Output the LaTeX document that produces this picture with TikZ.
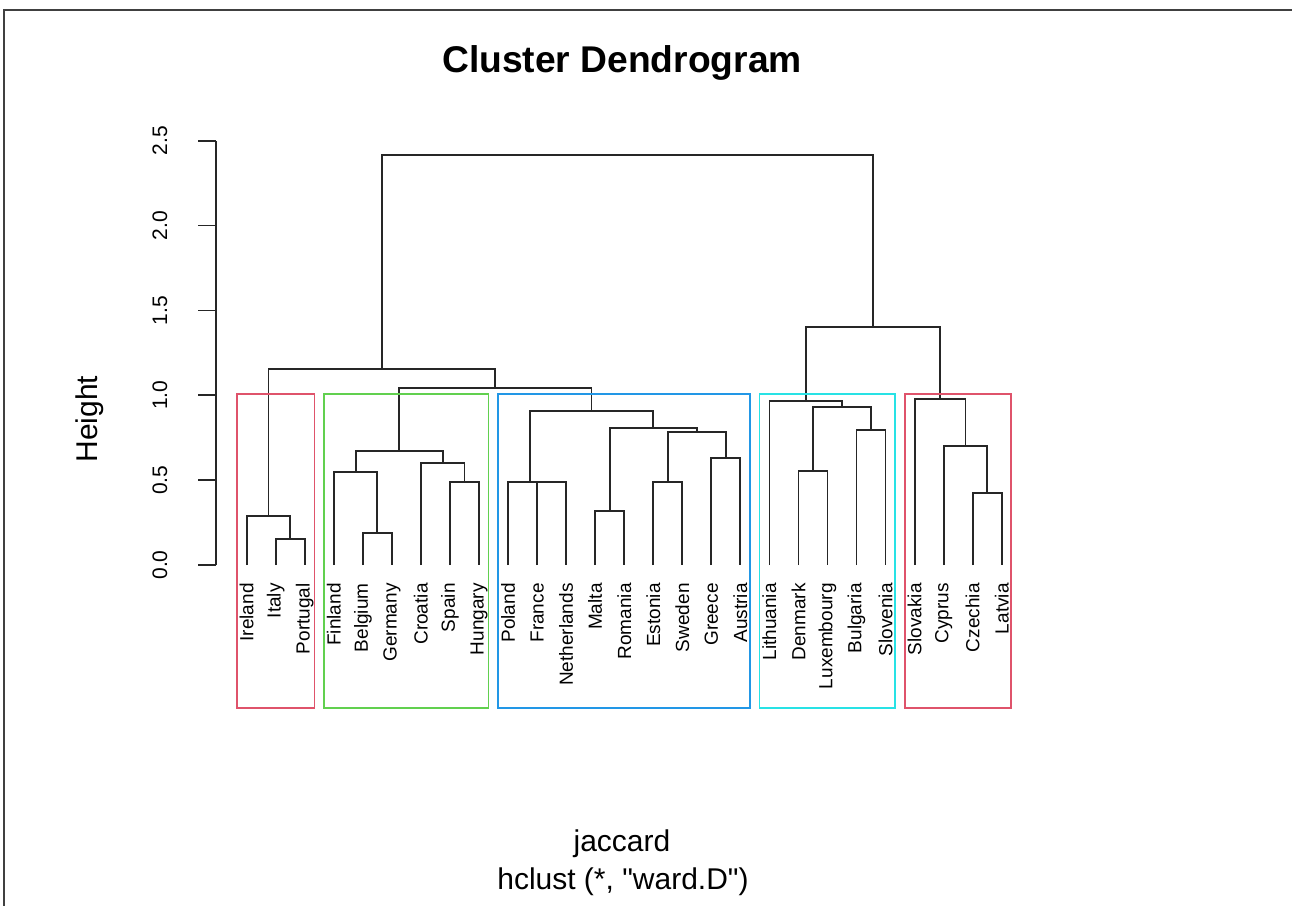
\documentclass[tikz,border=0pt]{standalone}
\usepackage{fontspec}
\setmainfont{Liberation Sans}
\newfontfamily\rawsans{Liberation Sans}
\usetikzlibrary{calc}
\tikzset{branch/.style = {line width = 0.9pt, black!85}}
\tikzset{box/.style = {line width = 0.85pt}}
\tikzset{leaf/.style = {rotate = 90, anchor = east, inner sep = 0, font = \fontsize{9.5}{11}\selectfont}}
\tikzset{ticklab/.style = {rotate = 90, inner sep = 0, font = \fontsize{10.5}{12}\selectfont}}
\definecolor{cred}{HTML}{DF536B}
\definecolor{cgreen}{HTML}{61D04F}
\definecolor{cblue}{HTML}{2297E6}
\definecolor{ccyan}{HTML}{28E2E5}

% #1 new merge point, #2 and #3 the two children, #4 height
\newcommand\joinpair[4]{%
  \path (#2) -- (#3) coordinate [pos = 0.5] (mid);
  \coordinate (#1) at (mid |- 0, #4);
  \draw [branch] (#2) |- (#1) -| (#3);
}

\begin{document}
\begin{tikzpicture}[x = 0.5pt, y = -0.5pt]
    \useasboundingbox (0, 0) rectangle (1292, 906);
    \draw [line width = 1pt, black!75] (4, 906) -- (4, 10) -- (1292, 10);

    \node [anchor = base, font = \bfseries\fontsize{18.6}{22}\selectfont] (title) at (622, 72) {Cluster Dendrogram};
    \node [anchor = base, font = \fontsize{15}{18}\selectfont] (xlab) at (622, 851.5) {jaccard};
    \node [anchor = base, font = \rawsans\fontsize{15}{18}\selectfont] (sub) at (623, 889) {hclust (*, "ward.D")};
    \node [rotate = 90, font = \fontsize{15}{18}\selectfont] (ylab) at (90, 419) {Height};

    \begin{scope}[shift = {(0, 565)}, y = 84.85pt]
      % axis
      \draw [line width = 0.85pt, black!85] (216, 0) -- (216, 2.5);
      \foreach \t/\s in {0/0.0, 0.5/0.5, 1/1.0, 1.5/1.5, 2/2.0, 2.5/2.5} {
        \draw [line width = 0.85pt, black!85] (216, \t) -- (198, \t);
        \node [ticklab] (tick-\s) at (160, \t) {\s};
      }

      % leaves
      \foreach \c [count = \i from 0] in {Ireland, Italy, Portugal, Finland, Belgium, Germany,
          Croatia, Spain, Hungary, Poland, France, Netherlands, Malta, Romania, Estonia,
          Sweden, Greece, Austria, Lithuania, Denmark, Luxembourg, Bulgaria, Slovenia,
          Slovakia, Cyprus, Czechia, Latvia} {
        \coordinate (\c) at ({246.7 + 29.04*\i}, 0);
        \node [leaf] (lab-\c) at ([yshift = -9pt]\c) {\c};
      }

      % merges
      \joinpair{itpt}{Italy}{Portugal}{0.153}
      \joinpair{grp1}{Ireland}{itpt}{0.29}
      \joinpair{bede}{Belgium}{Germany}{0.19}
      \joinpair{fide}{Finland}{bede}{0.546}
      \joinpair{eshu}{Spain}{Hungary}{0.491}
      \joinpair{hrhu}{Croatia}{eshu}{0.603}
      \joinpair{grp2}{fide}{hrhu}{0.672}
      \joinpair{frnl}{France}{Netherlands}{0.491}
      \joinpair{plnl}{Poland}{frnl}{0.491}
      \joinpair{mtro}{Malta}{Romania}{0.32}
      \joinpair{eese}{Estonia}{Sweden}{0.491}
      \joinpair{grat}{Greece}{Austria}{0.629}
      \joinpair{eeat}{eese}{grat}{0.786}
      \joinpair{mtat}{mtro}{eeat}{0.806}
      \joinpair{grp3}{plnl}{mtat}{0.909}
      \joinpair{grp23}{grp2}{grp3}{1.041}
      \joinpair{lhs}{grp1}{grp23}{1.155}
      \joinpair{dklu}{Denmark}{Luxembourg}{0.556}
      \joinpair{bgsi}{Bulgaria}{Slovenia}{0.796}
      \joinpair{dksi}{dklu}{bgsi}{0.929}
      \joinpair{grp4}{Lithuania}{dksi}{0.966}
      \joinpair{czlv}{Czechia}{Latvia}{0.426}
      \joinpair{cylv}{Cyprus}{czlv}{0.703}
      \joinpair{grp5}{Slovakia}{cylv}{0.976}
      \joinpair{rhs}{grp4}{grp5}{1.404}
      \joinpair{root}{lhs}{rhs}{2.416}

      % cluster boxes
      \draw [box, cred] ($(Ireland) + (-9.9, 1.008)$) rectangle ($(Portugal) + (9.6, -0.844)$);
      \draw [box, cgreen] ($(Finland) + (-9.9, 1.008)$) rectangle ($(Hungary) + (9.6, -0.844)$);
      \draw [box, cblue] ($(Poland) + (-9.9, 1.008)$) rectangle ($(Austria) + (9.6, -0.844)$);
      \draw [box, ccyan] ($(Lithuania) + (-9.9, 1.008)$) rectangle ($(Slovenia) + (9.6, -0.844)$);
      \draw [box, cred] ($(Slovakia) + (-9.9, 1.008)$) rectangle ($(Latvia) + (9.6, -0.844)$);
    \end{scope}
  \end{tikzpicture}
\end{document}
